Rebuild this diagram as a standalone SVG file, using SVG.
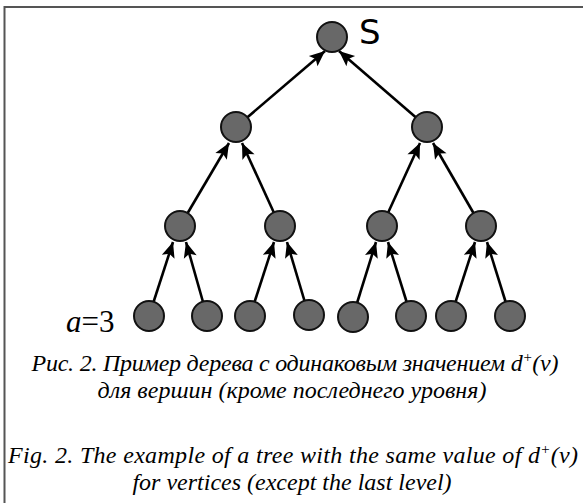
<svg xmlns="http://www.w3.org/2000/svg" width="583" height="503" viewBox="0 0 583 503">
<style>
.node{fill:#686868;stroke:#111;stroke-width:2}
.edge{stroke:#000;stroke-width:2.6;fill:none;marker-end:url(#ah)}
.cap{font-family:"Liberation Serif","Times New Roman",serif;font-style:italic;font-size:24px;fill:#000;text-anchor:middle}
.frame{stroke:#555;stroke-width:2;fill:none}
</style>
<defs>
<marker id="ah" markerUnits="userSpaceOnUse" markerWidth="20" markerHeight="20" viewBox="-16 -8 18 16" refX="0" refY="0" orient="auto">
<path d="M0,0 L-14,-6 L-11,0 L-14,6 Z" fill="#000"/>
</marker>
</defs>
<path class="frame" d="M4.5,503 V7 H583"/>
<g id="connectors">
<line class="edge" x1="236" y1="127" x2="325" y2="51"/>
<line class="edge" x1="427" y1="127" x2="339" y2="51"/>
<line class="edge" x1="180" y1="226" x2="229" y2="143"/>
<line class="edge" x1="280" y1="226" x2="242" y2="143"/>
<line class="edge" x1="382" y1="226" x2="420" y2="143"/>
<line class="edge" x1="481" y1="226" x2="433" y2="143"/>
<line class="edge" x1="149" y1="316" x2="173" y2="242"/>
<line class="edge" x1="207" y1="316" x2="186" y2="242"/>
<line class="edge" x1="250" y1="316" x2="274" y2="242"/>
<line class="edge" x1="309" y1="316" x2="287" y2="242"/>
<line class="edge" x1="353" y1="316" x2="376" y2="242"/>
<line class="edge" x1="411" y1="316" x2="388" y2="242"/>
<line class="edge" x1="451" y1="316" x2="475" y2="242"/>
<line class="edge" x1="510" y1="316" x2="487" y2="242"/>
</g>
<g id="root"><circle class="node" cx="332" cy="37" r="15"/><text x="359" y="44" font-family="DejaVu Sans,sans-serif" font-size="34">S</text></g>
<g id="n2a"><circle class="node" cx="236" cy="127" r="15"/></g>
<g id="n2b"><circle class="node" cx="427" cy="127" r="15"/></g>
<g id="n3a"><circle class="node" cx="180" cy="226" r="15"/></g>
<g id="n3b"><circle class="node" cx="280" cy="226" r="15"/></g>
<g id="n3c"><circle class="node" cx="382" cy="226" r="15"/></g>
<g id="n3d"><circle class="node" cx="481" cy="226" r="15"/></g>
<g id="l1"><circle class="node" cx="149" cy="316" r="15"/></g>
<g id="l2"><circle class="node" cx="207" cy="316" r="15"/></g>
<g id="l3"><circle class="node" cx="250" cy="316" r="15"/></g>
<g id="l4"><circle class="node" cx="309" cy="315" r="15"/></g>
<g id="l5"><circle class="node" cx="353" cy="317" r="15"/></g>
<g id="l6"><circle class="node" cx="411" cy="316" r="15"/></g>
<g id="l7"><circle class="node" cx="451" cy="316" r="15"/></g>
<g id="l8"><circle class="node" cx="510" cy="316" r="15"/></g>
<g id="label-a"><text x="66" y="332" font-family="'Liberation Serif','Times New Roman',serif" font-size="31"><tspan font-style="italic">a</tspan>=3</text></g>
<g id="caption">
<text class="cap" x="295" y="371" textLength="527" lengthAdjust="spacing">Рис. 2. Пример дерева с одинаковым значением d<tspan font-size="15" dy="-9">+</tspan><tspan dy="9">(v)</tspan></text>
<text class="cap" x="292" y="398">для вершин (кроме последнего уровня)</text>
<text class="cap" x="293" y="463" textLength="570" lengthAdjust="spacing">Fig. 2. The example of a tree with the same value of d<tspan font-size="15" dy="-9">+</tspan><tspan dy="9">(v)</tspan></text>
<text class="cap" x="292" y="490">for vertices (except the last level)</text>
</g>
</svg>
